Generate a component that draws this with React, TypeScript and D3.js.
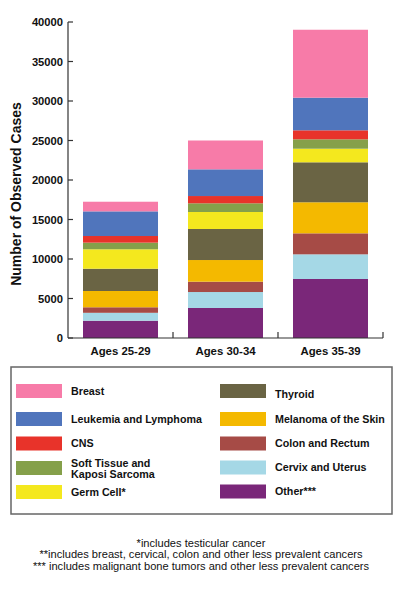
import React from "react";
import * as d3 from "d3";

const ageGroups = ["Ages 25-29", "Ages 30-34", "Ages 35-39"];
const cancerTypes = [
  "Other***",
  "Cervix and Uterus",
  "Colon and Rectum",
  "Melanoma of the Skin",
  "Thyroid",
  "Germ Cell*",
  "Soft Tissue and Kaposi Sarcoma",
  "CNS",
  "Leukemia and Lymphoma",
  "Breast",
];
const typeColors = [
  "#7A2779",
  "#A5D8E6",
  "#A64B46",
  "#F4B900",
  "#6A6444",
  "#F4E81E",
  "#85A04A",
  "#E8332A",
  "#5075BC",
  "#F77BA8",
];
const otherVals = [2190, 3800, 7470];
const cervixVals = [1000, 2020, 3120];
const colonVals = [700, 1310, 2660];
const melanomaVals = [2060, 2740, 3930];
const thyroidVals = [2820, 3930, 5060];
const germVals = [2460, 2150, 1720];
const softVals = [840, 1100, 1190];
const cnsVals = [840, 920, 1140];
const leukemiaVals = [3120, 3380, 4130];
const breastVals = [1220, 3650, 8600];
const yTicks = [0, 5000, 10000, 15000, 20000, 25000, 30000, 35000, 40000];

const seriesVals = [
  otherVals, cervixVals, colonVals, melanomaVals, thyroidVals,
  germVals, softVals, cnsVals, leukemiaVals, breastVals,
];

// legend layout: left column and right column entries (index into cancerTypes)
const legendLeft = [9, 8, 7, 6, 5];
const legendRight = [4, 3, 2, 1, 0];
const footnotes = [
  "*includes testicular cancer",
  "**includes breast, cervical, colon and other less prevalent cancers",
  "*** includes malignant bone tumors and other less prevalent cancers",
];

export default function App() {
  const W = 400, H = 595;
  const left = 68, right = 383, top = 22, bottom = 338;
  const rows = ageGroups.map((g, i) => {
    const r: any = { group: g };
    cancerTypes.forEach((t, j) => (r[t] = seriesVals[j][i]));
    return r;
  });
  const stacked = d3.stack<any>().keys(cancerTypes)(rows);
  const x = d3.scaleBand().domain(ageGroups).range([left, right]).paddingInner(0.2857).paddingOuter(0.1429);
  const y = d3.scaleLinear().domain([0, 40000]).range([bottom, top]);
  const step = x.step();
  const font = "'Liberation Sans', Arial, sans-serif";
  const axisColor = "#333";

  const legendRowsY = [391, 419, 443.5, 468, 492];
  const legendRowsYR = [391, 419, 443.5, 467.5, 491.5];

  return (
    <svg width={W} height={H} style={{ position: "absolute", left: 0, top: 0 }} fontFamily={font}>
      <rect width={W} height={H} fill="#fff" />
      {stacked.map((s, si) => (
        <g key={s.key} fill={typeColors[si]}>
          {s.map((d, di) => (
            <rect
              key={di}
              x={x(ageGroups[di])}
              width={x.bandwidth()}
              y={y(d[1])}
              height={y(d[0]) - y(d[1])}
            />
          ))}
        </g>
      ))}
      {/* y axis */}
      <line x1={left} x2={left} y1={top} y2={bottom} stroke={axisColor} strokeWidth={1.2} />
      {yTicks.map((t) => (
        <g key={t}>
          <line x1={left} x2={left + 5} y1={y(t)} y2={y(t)} stroke={axisColor} strokeWidth={1.2} />
          <text x={63} y={y(t) + 4} textAnchor="end" fontSize={11.2} fontWeight="bold" fill="#111">
            {t}
          </text>
        </g>
      ))}
      <text
        transform={`translate(21,194) rotate(-90)`}
        textAnchor="middle"
        fontSize={14}
        fontWeight="bold"
        fill="#111"
      >
        Number of Observed Cases
      </text>
      {/* x axis */}
      <line x1={left} x2={right} y1={bottom} y2={bottom} stroke={axisColor} strokeWidth={1.2} />
      {ageGroups.map((g) => {
        const bx = (x(g) as number) + x.bandwidth() + (step - x.bandwidth()) / 2;
        return (
          <g key={g}>
            <line x1={bx} x2={bx} y1={bottom} y2={bottom - 6} stroke={axisColor} strokeWidth={1.2} />
            <text
              x={(x(g) as number) + x.bandwidth() / 2}
              y={355}
              textAnchor="middle"
              fontSize={11.4}
              fontWeight="bold"
              fill="#111"
            >
              {g}
            </text>
          </g>
        );
      })}
      {/* legend */}
      <rect x={11} y={367} width={381} height={147} fill="none" stroke="#666" strokeWidth={1.5} />
      {legendLeft.map((idx, i) => {
        const cy = legendRowsY[i];
        const label = cancerTypes[idx];
        return (
          <g key={label}>
            <rect x={16} y={cy - 7} width={46} height={14} fill={typeColors[idx]} />
            {idx === 6 ? (
              <text x={71} y={cy} fontSize={10.7} fontWeight="bold" fill="#111">
                <tspan x={71} dy={-1.5}>Soft Tissue and</tspan>
                <tspan x={71} dy={11}>Kaposi Sarcoma</tspan>
              </text>
            ) : (
              <text x={71} y={cy + 3.8} fontSize={10.7} fontWeight="bold" fill="#111">
                {label}
              </text>
            )}
          </g>
        );
      })}
      {legendRight.map((idx, i) => {
        const cy = legendRowsYR[i];
        const label = cancerTypes[idx];
        return (
          <g key={label}>
            <rect x={220} y={cy - 7} width={46} height={14} fill={typeColors[idx]} />
            <text x={275} y={cy + 3.8 + (idx === 4 ? 3 : 0)} fontSize={10.7} fontWeight="bold" fill="#111">
              {label}
            </text>
          </g>
        );
      })}
      {/* footnotes */}
      {footnotes.map((f, i) => (
        <text key={i} x={201} y={546.5 + i * 11.5} textAnchor="middle" fontSize={11.1} fill="#111">
          {f}
        </text>
      ))}
    </svg>
  );
}
